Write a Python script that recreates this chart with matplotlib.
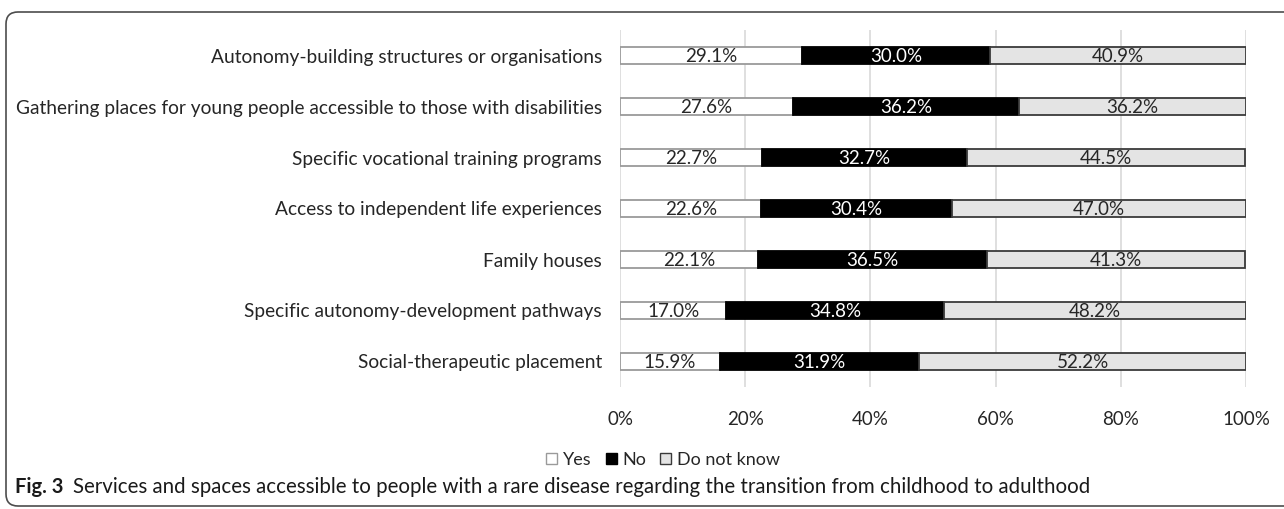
import numpy as np
import matplotlib
matplotlib.use("Agg")
import matplotlib.pyplot as plt
from matplotlib.patches import Patch
from matplotlib.path import Path
from matplotlib.patches import PathPatch

plt.rcParams['font.family'] = ['Lato', 'DejaVu Sans']

categories = [
    "Autonomy-building structures or organisations",
    "Gathering places for young people accessible to those with disabilities",
    "Specific vocational training programs",
    "Access to independent life experiences",
    "Family houses",
    "Specific autonomy-development pathways",
    "Social-therapeutic placement",
]
yes = [29.1, 27.6, 22.7, 22.6, 22.1, 17.0, 15.9]
no = [30.0, 36.2, 32.7, 30.4, 36.5, 34.8, 31.9]
dont_know = [40.9, 36.2, 44.5, 47.0, 41.3, 48.2, 52.2]
series_names = ["Yes", "No", "Do not know"]
xticks = [0, 20, 40, 60, 80, 100]

W, H = 1284, 509
fig = plt.figure(figsize=(W / 100, H / 100), dpi=100)
ax = fig.add_axes([620 / W, 1 - 387 / H, (1246 - 620) / W, (387 - 30) / H])

y = np.arange(len(categories))
fills = ["white", "black", "#e4e4e4"]
edges = ["#9a9a9a", "black", "#3a3a3a"]
txtcol = ["#262626", "white", "#262626"]

left = np.zeros(len(categories))
for vals, fc, ec, tc in zip([yes, no, dont_know], fills, edges, txtcol):
    vals = np.array(vals)
    ax.barh(y, vals, left=left, height=0.34, color=fc, edgecolor=ec,
            linewidth=1.3, zorder=3)
    for yi, l, v in zip(y, left, vals):
        ax.text(l + v / 2, yi + 0.02, f"{v:.1f}%", ha="center", va="center",
                color=tc, fontsize=13.5, zorder=4)
    left = left + vals

ax.set_xlim(0, 100)
ax.set_ylim(len(categories) - 0.5, -0.5)
ax.set_yticks(y)
ax.set_yticklabels(categories, fontsize=13.8, color="#262626")
ax.set_xticks(xticks)
ax.set_xticklabels([f"{t}%" for t in xticks], fontsize=13.5, color="#262626")
ax.tick_params(length=0)
ax.tick_params(axis="y", pad=13)
ax.tick_params(axis="x", pad=17)
ax.grid(axis="x", color="#d9d9d9", linewidth=1.2, zorder=0)
for s in ax.spines.values():
    s.set_visible(False)

handles = [Patch(facecolor=fc, edgecolor=ec, linewidth=1) for fc, ec in
           zip(fills, ["#9a9a9a", "black", "#3a3a3a"])]
fig.legend(handles, series_names, loc="center", bbox_to_anchor=(663 / W, 1 - 460 / H),
           ncol=3, frameon=False, fontsize=13, handlelength=0.6, handleheight=0.6,
           handletextpad=0.3, columnspacing=0.8, labelcolor="#262626")

# caption: bold figure number, then the description right after it
fignum = fig.text(15 / W, 1 - 487 / H, "Fig. 3", fontsize=14.5, fontweight="bold",
                  va="center", ha="left", color="#1a1a1a")
fig.canvas.draw()
ax.annotate("Services and spaces accessible to people with a rare disease regarding the transition from childhood to adulthood",
            xy=(1, 0.5), xycoords=fignum, xytext=(7, 0), textcoords="offset points",
            fontsize=14.8, va="center", ha="left", color="#1a1a1a",
            annotation_clip=False)

# open frame with rounded left corners
x0, x1, y0, y1, r = 6, W + 5, 12, 506, 12
verts = [(x1, y0), (x0 + r, y0), (x0, y0), (x0, y0 + r), (x0, y1 - r),
         (x0, y1), (x0 + r, y1), (x1, y1)]
codes = [Path.MOVETO, Path.LINETO, Path.CURVE3, Path.CURVE3, Path.LINETO,
         Path.CURVE3, Path.CURVE3, Path.LINETO]
verts = [(vx / W, 1 - vy / H) for vx, vy in verts]
fig.patches.append(PathPatch(Path(verts, codes), transform=fig.transFigure,
                             facecolor="none", edgecolor="#4d4d4d", linewidth=1.2))

fig.savefig("out.png", dpi=100)
